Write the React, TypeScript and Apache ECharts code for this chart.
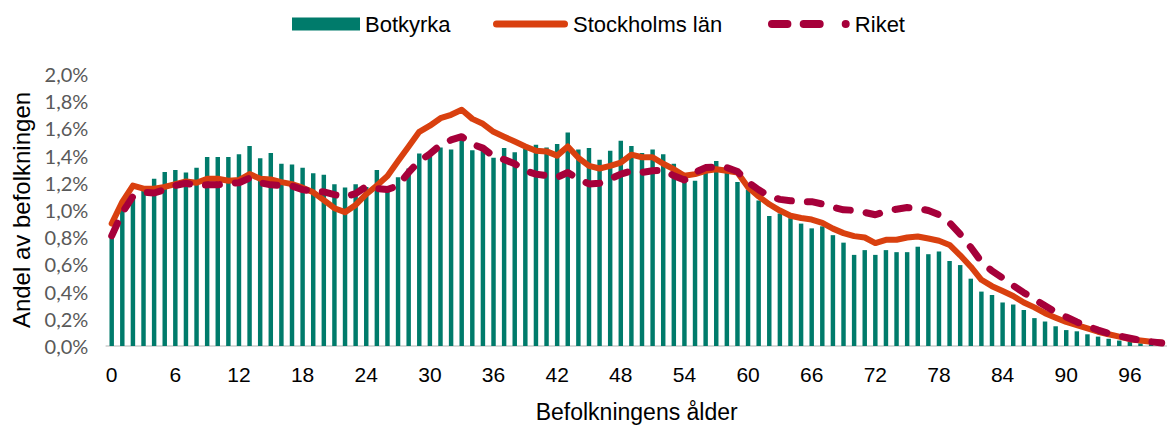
import React, { useEffect, useRef } from "react";
import * as echarts from "echarts";

const ages: string[] = [
  "0","1","2","3","4","5","6","7","8","9",
  "10","11","12","13","14","15","16","17","18","19",
  "20","21","22","23","24","25","26","27","28","29",
  "30","31","32","33","34","35","36","37","38","39",
  "40","41","42","43","44","45","46","47","48","49",
  "50","51","52","53","54","55","56","57","58","59",
  "60","61","62","63","64","65","66","67","68","69",
  "70","71","72","73","74","75","76","77","78","79",
  "80","81","82","83","84","85","86","87","88","89",
  "90","91","92","93","94","95","96","97","98","99",
];

const botkyrka: number[] = [
  0.80, 1.00, 1.10, 1.145, 1.23, 1.28, 1.295, 1.275, 1.31, 1.39,
  1.39, 1.39, 1.41, 1.47, 1.38, 1.42, 1.34, 1.335, 1.31, 1.27,
  1.26, 1.19, 1.165, 1.19, 1.17, 1.295, 1.175, 1.24, 1.305, 1.415,
  1.40, 1.46, 1.445, 1.525, 1.44, 1.455, 1.385, 1.455, 1.425, 1.45,
  1.48, 1.46, 1.485, 1.57, 1.445, 1.455, 1.37, 1.435, 1.51, 1.47,
  1.42, 1.445, 1.41, 1.34, 1.27, 1.215, 1.28, 1.36, 1.29, 1.205,
  1.15, 1.07, 0.955, 0.975, 0.94, 0.90, 0.865, 0.88, 0.815, 0.76,
  0.67, 0.705, 0.67, 0.705, 0.69, 0.69, 0.73, 0.675, 0.695, 0.625,
  0.595, 0.495, 0.40, 0.375, 0.32, 0.305, 0.265, 0.205, 0.18, 0.145,
  0.117, 0.108, 0.086, 0.069, 0.053, 0.04, 0.031, 0.02, 0.015, 0.01,
];

const stockholm: number[] = [
  0.90, 1.06, 1.18, 1.157, 1.157, 1.17, 1.19, 1.21, 1.20, 1.23,
  1.23, 1.215, 1.22, 1.264, 1.23, 1.225, 1.205, 1.19, 1.164, 1.13,
  1.073, 1.013, 0.984, 1.037, 1.116, 1.18, 1.25, 1.36, 1.467, 1.575,
  1.62, 1.675, 1.70, 1.737, 1.67, 1.634, 1.575, 1.539, 1.503, 1.467,
  1.436, 1.431, 1.40, 1.467, 1.384, 1.324, 1.305, 1.324, 1.348, 1.407,
  1.388, 1.388, 1.34, 1.30, 1.252, 1.264, 1.288, 1.30, 1.288, 1.276,
  1.168, 1.10, 1.042, 0.996, 0.958, 0.941, 0.93, 0.906, 0.863, 0.83,
  0.808, 0.798, 0.757, 0.781, 0.781, 0.798, 0.805, 0.79, 0.774, 0.743,
  0.667, 0.583, 0.487, 0.44, 0.404, 0.368, 0.32, 0.284, 0.241, 0.208,
  0.177, 0.153, 0.129, 0.105, 0.086, 0.069, 0.05, 0.04, 0.031, 0.026,
];

const riket: number[] = [
  0.81, 0.98, 1.10, 1.13, 1.125, 1.15, 1.18, 1.197, 1.18, 1.185,
  1.185, 1.197, 1.20, 1.235, 1.20, 1.185, 1.18, 1.176, 1.15, 1.137,
  1.133, 1.113, 1.097, 1.12, 1.173, 1.157, 1.15, 1.18, 1.276, 1.36,
  1.412, 1.479, 1.515, 1.539, 1.484, 1.455, 1.395, 1.371, 1.34, 1.288,
  1.264, 1.252, 1.24, 1.276, 1.228, 1.192, 1.197, 1.228, 1.264, 1.288,
  1.276, 1.288, 1.293, 1.252, 1.221, 1.276, 1.312, 1.317, 1.312, 1.283,
  1.204, 1.149, 1.10, 1.078, 1.068, 1.061, 1.061, 1.044, 1.02, 1.001,
  0.998, 0.982, 0.965, 0.989, 1.006, 1.018, 1.013, 0.996, 0.965, 0.906,
  0.822, 0.726, 0.619, 0.552, 0.50, 0.444, 0.392, 0.344, 0.296, 0.249,
  0.213, 0.177, 0.146, 0.117, 0.093, 0.074, 0.057, 0.041, 0.031, 0.022,
];

const GREEN = "#007B6B";
const ORANGE = "#D9400F";
const CRIMSON = "#A6003A";
const FONT = "'Liberation Sans', Arial, sans-serif";

const ICON_SOLID =
  "path://M3.5,0 H71.5 A3.5,3.5 0 0 1 71.5,7 H3.5 A3.5,3.5 0 0 1 3.5,0 Z";
const ICON_DASH =
  "path://M4,0 H19.4 A4,4 0 0 1 19.4,8 H4 A4,4 0 0 1 4,0 Z " +
  "M35.7,0 H51.7 A4,4 0 0 1 51.7,8 H35.7 A4,4 0 0 1 35.7,0 Z " +
  "M77.7,0 A4,4 0 0 1 77.7,8 A4,4 0 0 1 77.7,0 Z";

export default function App() {
  const ref = useRef<HTMLDivElement>(null);

  useEffect(() => {
    if (!ref.current) return;
    const chart = echarts.init(ref.current, null, { renderer: "svg" });
    const legendText = { fontSize: 22, color: "#000", fontFamily: FONT };
    const legendBase = {
      top: 13,
      padding: 0,
      textStyle: legendText,
      selectedMode: false,
      itemStyle: { borderWidth: 0 },
    };
    chart.setOption({
      animation: false,
      backgroundColor: "#fff",
      legend: [
        {
          ...legendBase,
          data: ["Botkyrka"],
          left: 292,
          itemWidth: 68,
          itemHeight: 13,
          icon: "rect",
        },
        {
          ...legendBase,
          data: ["Stockholms län"],
          left: 493,
          itemWidth: 75,
          itemHeight: 7,
          icon: ICON_SOLID,
        },
        {
          ...legendBase,
          data: ["Riket"],
          left: 768,
          itemWidth: 82,
          itemHeight: 8,
          icon: ICON_DASH,
        },
      ],
      grid: { left: 106.4, top: 74, width: 1063, height: 279, containLabel: false },
      xAxis: {
        type: "category",
        data: ages,
        boundaryGap: true,
        axisTick: { show: false },
        axisLine: { lineStyle: { color: "#d9d9d9", width: 2 } },
        axisLabel: {
          interval: 5,
          margin: 18,
          fontSize: 21,
          color: "#000",
          fontFamily: FONT,
        },
        name: "Befolkningens ålder",
        nameLocation: "middle",
        nameGap: 54,
        nameTextStyle: { fontSize: 23, color: "#000", fontFamily: FONT },
      },
      yAxis: {
        type: "value",
        min: 0,
        max: 2.0,
        interval: 0.2,
        splitLine: { show: false },
        axisLine: { show: false },
        axisTick: { show: false },
        axisLabel: {
          margin: 18,
          fontSize: 20,
          color: "#595959",
          fontFamily: "Lato, 'Open Sans', sans-serif",
          formatter: (v: number) => v.toFixed(1).replace(".", ",") + "%",
        },
        name: "Andel av befolkningen",
        nameLocation: "middle",
        nameGap: 72,
        nameTextStyle: { fontSize: 24, color: "#000", fontFamily: FONT },
      },
      series: [
        {
          name: "Botkyrka",
          type: "bar",
          data: botkyrka,
          barWidth: "42%",
          itemStyle: { color: GREEN },
        },
        {
          name: "Stockholms län",
          type: "line",
          data: stockholm,
          symbol: "none",
          lineStyle: { color: ORANGE, width: 6, cap: "round", join: "round" },
          itemStyle: { color: ORANGE },
        },
        {
          name: "Riket",
          type: "line",
          data: riket,
          symbol: "none",
          lineStyle: {
            color: CRIMSON,
            width: 7,
            type: [14, 16],
            cap: "round",
            join: "round",
          },
          itemStyle: { color: CRIMSON },
        },
      ],
    });
    return () => chart.dispose();
  }, []);

  return (
    <div
      ref={ref}
      style={{ position: "fixed", left: 0, top: 0, width: 1167, height: 428 }}
    />
  );
}
